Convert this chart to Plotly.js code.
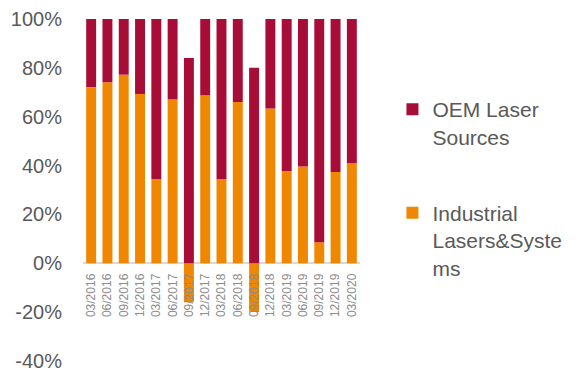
<!DOCTYPE html>
<html>
<head>
<meta charset="utf-8">
<script src="https://cdn.plot.ly/plotly-3.0.1.min.js"></script>
<style>html,body{margin:0;padding:0;background:#fff;}#chart{width:584px;height:371px;}</style>
</head>
<body>
<div id="chart"></div>
<script>
const categories = ['03/2016','06/2016','09/2016','12/2016','03/2017','06/2017','09/2017','12/2017','03/2018','06/2018','09/2018','12/2018','03/2019','06/2019','09/2019','12/2019','03/2020'];
const industrial = [72.1, 74.1, 77.2, 69.3, 34.5, 67.1, -16, 68.7, 34.5, 66.0, -20, 63.3, 37.8, 39.6, 8.6, 37.3, 40.9];
const oem = [27.9, 25.9, 22.8, 30.7, 65.5, 32.9, 84, 31.3, 65.5, 34.0, 80, 36.7, 62.2, 60.4, 91.4, 62.7, 59.1];
const yTickVals = [-40, -20, 0, 20, 40, 60, 80, 100];
const yTickLabels = ['-40%', '-20%', '0%', '20%', '40%', '60%', '80%', '100%'];

const FONT = 'Liberation Sans, Arial, sans-serif';
const data = [
  {type: 'bar', name: 'Industrial<br>Lasers&Syste<br>ms', x: categories, y: industrial,
   marker: {color: '#F08700'}, legendgroup: 'b', legendrank: 2, hoverinfo: 'skip'},
  {type: 'bar', name: 'OEM Laser<br>Sources', x: categories, y: oem,
   marker: {color: '#A80D37'}, legendgroup: 'a', legendrank: 1, hoverinfo: 'skip'}
];
const layout = {
  width: 584, height: 371,
  margin: {l: 83, r: 224, t: 19, b: 10, pad: 0},
  paper_bgcolor: '#fff', plot_bgcolor: '#fff',
  barmode: 'relative', bargap: 0.39,
  font: {family: FONT, color: '#595959'},
  showlegend: true,
  legend: {xref: 'container', yref: 'container', x: 0.672, y: 0.76, xanchor: 'left', yanchor: 'top',
           traceorder: 'grouped', tracegroupgap: 46, valign: 'top', maxheight: 400,
           font: {family: FONT, size: 21, color: '#595959'}, bgcolor: 'rgba(0,0,0,0)'},
  xaxis: {type: 'category', anchor: 'free', position: 0.4/1.4, tickangle: -90, ticks: '',
          showline: false, showgrid: false, zeroline: false, ticklabelstandoff: 7,
          tickfont: {family: FONT, size: 12, color: '#8c8c8c'}, fixedrange: true},
  yaxis: {range: [-40.05, 100], tickvals: yTickVals, ticktext: yTickLabels, ticks: '',
          showgrid: false, showline: false, zeroline: true, zerolinecolor: '#d9d9d9', zerolinewidth: 2,
          ticklabelstandoff: 20, ticklabeloverflow: 'allow',
          tickfont: {family: FONT, size: 20, color: '#595959'}, fixedrange: true}
};
Plotly.newPlot('chart', data, layout, {displayModeBar: false, staticPlot: true});
</script>
</body>
</html>
